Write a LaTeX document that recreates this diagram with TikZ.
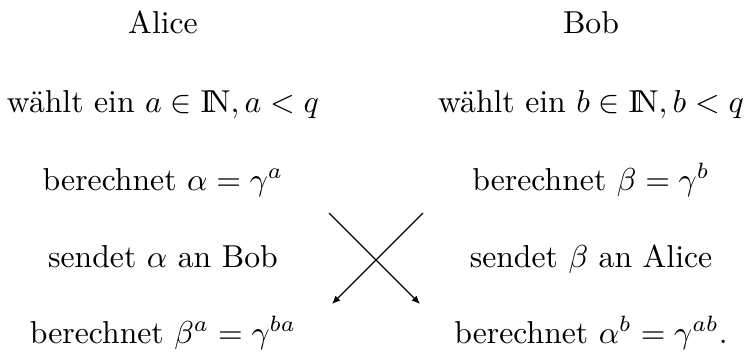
\documentclass[tikz,border=0pt]{standalone}
\usepackage{amsmath}
\usetikzlibrary{arrows.meta}
\newcommand{\natN}{\mathrm{I\!N}}
\begin{document}
\begin{tikzpicture}[x=0.3155pt,y=-0.3155pt,
  txt/.style={anchor=base,inner sep=0pt,outer sep=0pt},
  arr/.style={-{Latex[length=2.6pt,width=2.2pt]},line width=0.4pt}]
\useasboundingbox (0,0) rectangle (747,351);
\node[txt] (alice) at (163,33) {Alice};
\node[txt] (bob) at (591,33) {Bob};
\node[txt] (a1) at (163,112) {wählt ein $a\in\natN, a<q$};
\node[txt] (b1) at (591,112) {wählt ein $b\in\natN, b<q$};
\node[txt] (a2) at (163,190) {berechnet $\alpha=\gamma^a$};
\node[txt] (b2) at (591,190) {berechnet $\beta=\gamma^b$};
\node[txt] (a3) at (163,267) {sendet $\alpha$ an Bob};
\node[txt] (b3) at (591,267) {sendet $\beta$ an Alice};
\node[txt] (a4) at (163,343) {berechnet $\beta^a=\gamma^{ba}$};
\node[txt] (b4) at (591,343) {berechnet $\alpha^b=\gamma^{ab}.$};
\coordinate (tl) at (329,213);
\coordinate (tr) at (423,213);
\coordinate (bl) at (332,304);
\coordinate (br) at (420,304);
\draw[arr] (tl) -- (br);
\draw[arr] (tr) -- (bl);
\end{tikzpicture}
\end{document}
